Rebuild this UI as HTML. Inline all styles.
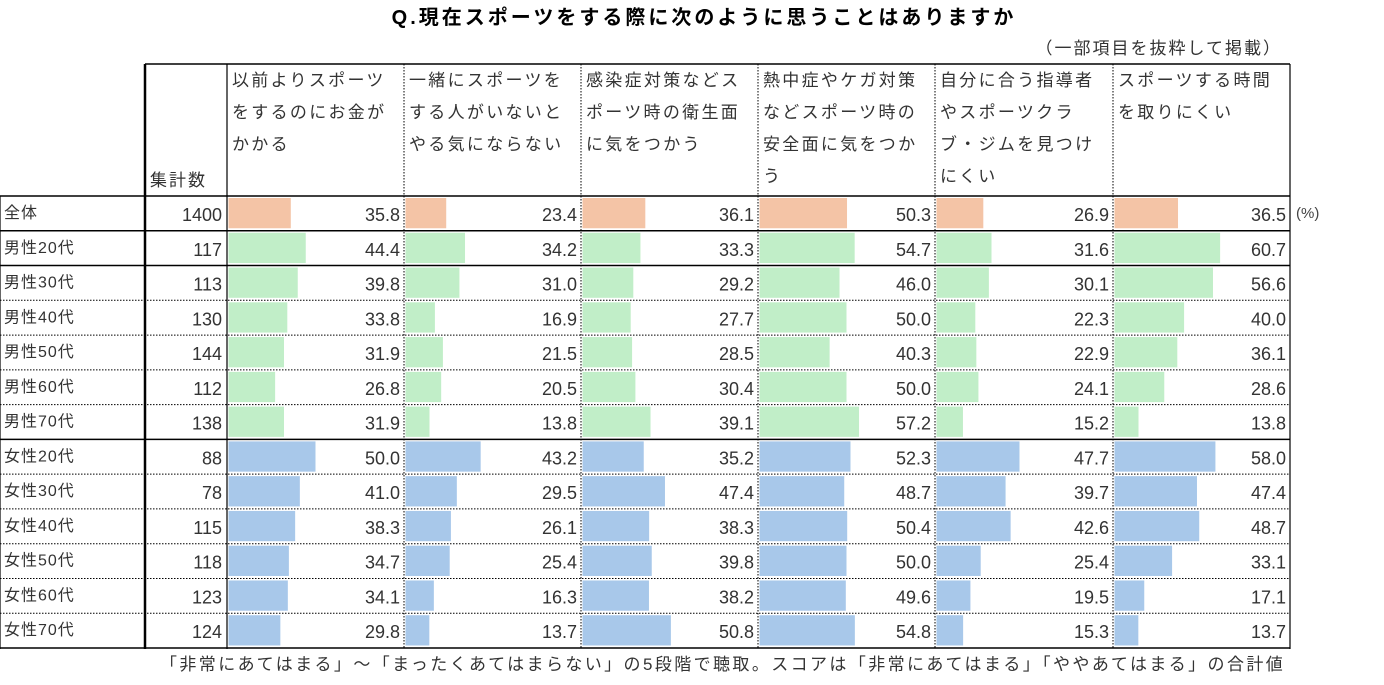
<!DOCTYPE html>
<html><head><meta charset="utf-8">
<style>
html,body{margin:0;padding:0;background:#fff;}
svg{display:block;font-family:"Liberation Sans","Noto Sans CJK JP",sans-serif;}
</style></head>
<body>
<svg id="chart" width="1384" height="685" xmlns="http://www.w3.org/2000/svg">
<text x="704" y="24" text-anchor="middle" font-size="20" font-weight="bold" fill="#000" letter-spacing="3">Q.現在スポーツをする際に次のように思うことはありますか</text>
<text x="1282" y="54" text-anchor="end" font-size="17" fill="#333" letter-spacing="2">（一部項目を抜粋して掲載）</text>
<text x="160" y="670" font-size="17" fill="#333" letter-spacing="2.4">「非常にあてはまる」～「まったくあてはまらない」の5段階で聴取。スコアは「非常にあてはまる」「ややあてはまる」の合計値</text>
<text x="1296" y="218" font-size="15" fill="#444">(%)</text>
<g id="grid"></g>
<g id="body"></g>
</svg>
<script>
const rowLabels = ["全体","男性20代","男性30代","男性40代","男性50代","男性60代","男性70代","女性20代","女性30代","女性40代","女性50代","女性60代","女性70代"];
const counts = [1400,117,113,130,144,112,138,88,78,115,118,123,124];
const questions = [
 ["以前よりスポーツ","をするのにお金が","かかる"],
 ["一緒にスポーツを","する人がいないと","やる気にならない"],
 ["感染症対策などス","ポーツ時の衛生面","に気をつかう"],
 ["熱中症やケガ対策","などスポーツ時の","安全面に気をつか","う"],
 ["自分に合う指導者","やスポーツクラ","ブ・ジムを見つけ","にくい"],
 ["スポーツする時間","を取りにくい"]
];
const q1 = [35.8,44.4,39.8,33.8,31.9,26.8,31.9,50.0,41.0,38.3,34.7,34.1,29.8];
const q2 = [23.4,34.2,31.0,16.9,21.5,20.5,13.8,43.2,29.5,26.1,25.4,16.3,13.7];
const q3 = [36.1,33.3,29.2,27.7,28.5,30.4,39.1,35.2,47.4,38.3,39.8,38.2,50.8];
const q4 = [50.3,54.7,46.0,50.0,40.3,50.0,57.2,52.3,48.7,50.4,50.0,49.6,54.8];
const q5 = [26.9,31.6,30.1,22.3,22.9,24.1,15.2,47.7,39.7,42.6,25.4,19.5,15.3];
const q6 = [36.5,60.7,56.6,40.0,36.1,28.6,13.8,58.0,47.4,48.7,33.1,17.1,13.7];
const series = [q1,q2,q3,q4,q5,q6];

const NS="http://www.w3.org/2000/svg";
const grid=document.getElementById('grid');
const body=document.getElementById('body');
function mk(tag,attrs,parent){const e=document.createElementNS(NS,tag);for(const k in attrs)e.setAttribute(k,attrs[k]);parent.appendChild(e);return e;}

const colX=[227,404,581,758,935,1113,1290];
const top0=64, rowTop=196, rowH=(648-196)/13;
const pxPerUnit=1.74;
const xScale=v=>v*pxPerUnit;
const yRow=i=>rowTop+i*rowH;

const hdr=mk('text',{x:150,y:186,'font-size':17,fill:'#333','letter-spacing':'2'},body);
hdr.textContent='集計数';


questions.forEach((lines,c)=>{
  lines.forEach((ln,j)=>{
    const t=mk('text',{x:colX[c]+5,y:86+j*32,'font-size':17,fill:'#333','letter-spacing':'2.3'},body);
    t.textContent=ln;
    
    
  });
});

const colors=i=> i===0?'#f4c4a6':(i<=6?'#c1eec8':'#a8c8ea');
rowLabels.forEach((lab,i)=>{
  const y=yRow(i);
  const t=mk('text',{x:4,y:y+22,'font-size':16,fill:'#333','letter-spacing':'1'},body);
  t.textContent=lab;
  
  
  const n=mk('text',{x:222,y:y+25,'font-size':18,fill:'#333','text-anchor':'end'},body);
  n.textContent=counts[i];
  
  
  series.forEach((s,c)=>{
    const b=mk('rect',{x:colX[c]+1.5,y:y+2,width:xScale(s[i]),height:rowH-4.5,fill:colors(i)},body);
    
    
    const v=mk('text',{x:colX[c+1]-4,y:y+25,'font-size':18,fill:'#333','text-anchor':'end'},body);
    v.textContent=s[i].toFixed(1);
    
    
  });
});

function line(x1,y1,x2,y2,w,dash){const a={x1,y1,x2,y2,stroke:'#000','stroke-width':w};if(dash)a['stroke-dasharray']='1.5,1.5';const l=mk('line',a,grid);}
line(145,top0,1290,top0,1.5);
line(145,top0,145,649,2.5);
line(227,top0,227,649,1.2);
for(let c=1;c<6;c++) line(colX[c],top0,colX[c],649,1,true);
line(1290,top0,1290,649,1.2);
line(0,rowTop,0,649,1.2);
for(let i=0;i<=13;i++){
  const solid=(i===0||i===1||i===2||i===7||i===13);
  line(0,yRow(i),1290,yRow(i),solid?1.5:1,!solid);
}
</script>
</body></html>
